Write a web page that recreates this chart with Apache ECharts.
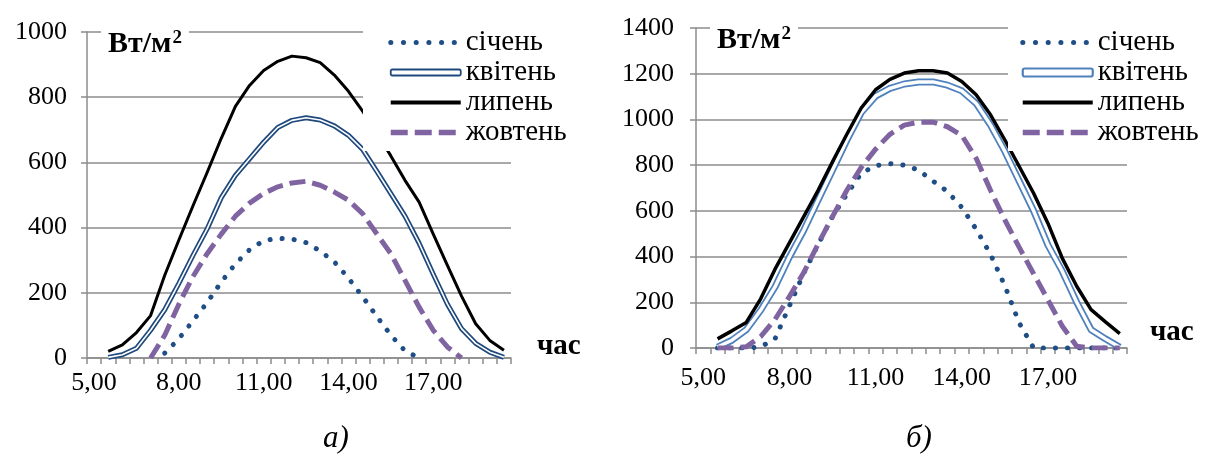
<!DOCTYPE html>
<html><head><meta charset="utf-8">
<script src="https://cdn.jsdelivr.net/npm/echarts@6/dist/echarts.min.js"></script>
<style>
html,body{margin:0;padding:0;background:#fff;}
#a{position:absolute;left:0;top:0;width:600px;height:464px;}
#b{position:absolute;left:600px;top:0;width:605px;height:464px;}
</style></head><body>
<div id="a"></div><div id="b"></div>
<script>
// categories (half-hour steps)
const hours = ['5,00','5,50','6,00','6,50','7,00','7,50','8,00','8,50','9,00','9,50',
  '10,00','10,50','11,00','11,50','12,00','12,50','13,00','13,50','14,00','14,50',
  '15,00','15,50','16,00','16,50','17,00','17,50','18,00','18,50','19,00','19,50'];
const seriesNames = ['січень','квітень','липень','жовтень'];
const unitLabel = 'Вт/м{sup|2}';
const xName = 'час';
const captions = ['а)','б)'];

// chart a)
const janA = [null,null,null,null,null,15,59,114,170,233,289,332,360,367,365,354,328,295,245,188,128,70,22,0,null,null,null,null,null,null];
const aprA = [null,2,10,30,85,148,229,315,396,492,560,611,662,707,729,737,730,712,683,640,573,504,435,352,257,165,90,45,18,2];
const julA = [null,20,40,78,130,254,362,467,569,674,772,836,882,910,926,921,906,868,818,757,690,620,545,478,380,284,190,105,54,24];
const octA = [null,null,null,null,0,70,165,250,320,380,435,475,505,525,537,542,530,509,484,443,381,320,238,156,85,34,0,null,null,null];

// chart б)
const janB = [null,0,0,0,5,40,184,327,452,575,673,764,798,806,800,778,730,685,615,520,410,272,109,0,0,0,0,0,0,0];
const aprB = [null,4,34,80,165,267,398,515,647,778,909,1030,1102,1136,1155,1164,1164,1150,1125,1070,975,860,730,600,450,335,200,80,40,3];
const julB = [null,40,75,112,215,345,460,575,690,815,935,1050,1130,1175,1203,1213,1213,1203,1166,1108,1020,910,794,677,545,392,270,168,114,63];
const octB = [null,0,0,5,50,125,225,330,455,575,690,790,870,935,975,988,988,968,930,830,690,560,440,325,210,95,8,0,0,0];

const FONT = 'Liberation Serif, Times New Roman, serif';
const GRID = '#8c8c8c';
const JAN_C = '#1F4E86', JUL_C = '#000000', OCT_C = '#8064A2';
const HIDE = {color: 'rgba(0,0,0,0)', borderWidth: 0, opacity: 0};

function build(el, cfg) {
  const chart = echarts.init(document.getElementById(el), null, {renderer:'canvas'});
  const axisLineStyle = {color: GRID, width: 1.5};
  const option = {
    animation: false,
    backgroundColor: '#fff',
    grid: {left: cfg.grid[0], top: cfg.grid[1], width: cfg.grid[2], height: cfg.grid[3], containLabel: false, outerBoundsMode: 'none'},
    xAxis: {
      type: 'category', data: hours, boundaryGap: true,
      axisLine: {lineStyle: axisLineStyle},
      axisTick: {show: true, interval: 0, length: 6, lineStyle: axisLineStyle},
      axisLabel: {interval: 5, color: '#000', fontFamily: FONT, fontSize: 26, margin: cfg.xMargin},
      splitLine: {show: false}
    },
    yAxis: {
      type: 'value', min: 0, max: cfg.yMax, interval: 200,
      axisLine: {show: true, lineStyle: axisLineStyle},
      axisTick: {show: true, length: 6, lineStyle: axisLineStyle},
      axisLabel: {color: '#000', fontFamily: FONT, fontSize: 26, margin: cfg.yMargin, formatter: v => String(v)},
      splitLine: {show: true, lineStyle: {color: GRID, width: 1.5}}
    },
    legend: {
      orient: 'vertical', left: cfg.legend[0], top: cfg.legend[1],
      backgroundColor: '#fff', padding: cfg.legendPad,
      itemWidth: 70, itemHeight: cfg.aprIconH, itemGap: 1, selectedMode: false,
      textStyle: {fontFamily: FONT, fontSize: 29, color: '#000'},
      data: [
        {name: seriesNames[0], itemStyle: HIDE, lineStyle: {color: JAN_C, width: 5, type: [0.1, 12.6], cap: 'round'}},
        {name: seriesNames[1], icon: 'roundRect', itemStyle: {color: '#fff', borderColor: cfg.aprColor, borderWidth: cfg.aprIconB}},
        {name: seriesNames[2], itemStyle: HIDE, lineStyle: {color: JUL_C, width: 4}},
        {name: seriesNames[3], itemStyle: HIDE, lineStyle: {color: OCT_C, width: 5.5, type: [17, 7]}}
      ]
    },
    title: [
      {text: unitLabel, left: cfg.unit[0], top: cfg.unit[1], padding: [2, 7, 2, 7], backgroundColor: '#fff',
       textStyle: {fontFamily: FONT, fontSize: 30, fontWeight: 'bold', color: '#000',
         rich: {sup: {fontFamily: FONT, fontSize: 19, fontWeight: 'bold', color: '#000', verticalAlign: 'top', padding: [0, 0, 0, 1]}}}},
      {text: xName, left: cfg.xname[0], top: cfg.xname[1], padding: 0,
       textStyle: {fontFamily: FONT, fontSize: 29, fontWeight: 'bold', color: '#000'}},
      {text: cfg.caption, left: cfg.cap[0], top: cfg.cap[1], padding: 0,
       textStyle: {fontFamily: FONT, fontSize: 31, fontStyle: 'italic', fontWeight: 'normal', color: '#000'}}
    ],
    series: [
      {name: seriesNames[0], type: 'line', data: cfg.data[0], symbol: 'none', z: 2,
       lineStyle: {color: JAN_C, width: 5, type: [0.1, 12], cap: 'round'}},
      {name: seriesNames[1], type: 'line', data: cfg.data[1], symbol: 'none', z: 2,
       lineStyle: {color: cfg.aprColor, width: cfg.aprW[0], join: 'round'}},
      {name: seriesNames[1] + ' ', type: 'line', data: cfg.data[1], symbol: 'none', z: 2,
       lineStyle: {color: '#fff', width: cfg.aprW[1], join: 'round'}},
      {name: seriesNames[2], type: 'line', data: cfg.data[2], symbol: 'none', z: 2,
       lineStyle: {color: JUL_C, width: cfg.julW, join: 'round'}},
      {name: seriesNames[3], type: 'line', data: cfg.data[3], symbol: 'none', z: 2,
       lineStyle: {color: OCT_C, width: 5, type: [16, 7], join: 'round'}}
    ]
  };
  chart.setOption(option);
}

build('a', {
  grid: [87, 32, 424, 326], yMax: 1000, xMargin: 12, yMargin: 20,
  legend: [363, 24], legendPad: [4, 8, 4, 25], aprColor: '#1F497D', aprIconH: 6, aprIconB: 1.8,
  aprW: [5, 1.6], julW: 3,
  unit: [101, 27], xname: [537, 332], caption: captions[0], cap: [323, 423],
  data: [janA, aprA, julA, octA]
});
build('b', {
  grid: [96, 28, 431, 320], yMax: 1400, xMargin: 17, yMargin: 22,
  legend: [408, 24], legendPad: [4, 8, 4, 12], aprColor: '#4F81BD', aprIconH: 8, aprIconB: 2.2,
  aprW: [7, 3.4], julW: 3.5,
  unit: [110, 23], xname: [550, 318], caption: captions[1], cap: [306, 423],
  data: [janB, aprB, julB, octB]
});
</script>
</body></html>
